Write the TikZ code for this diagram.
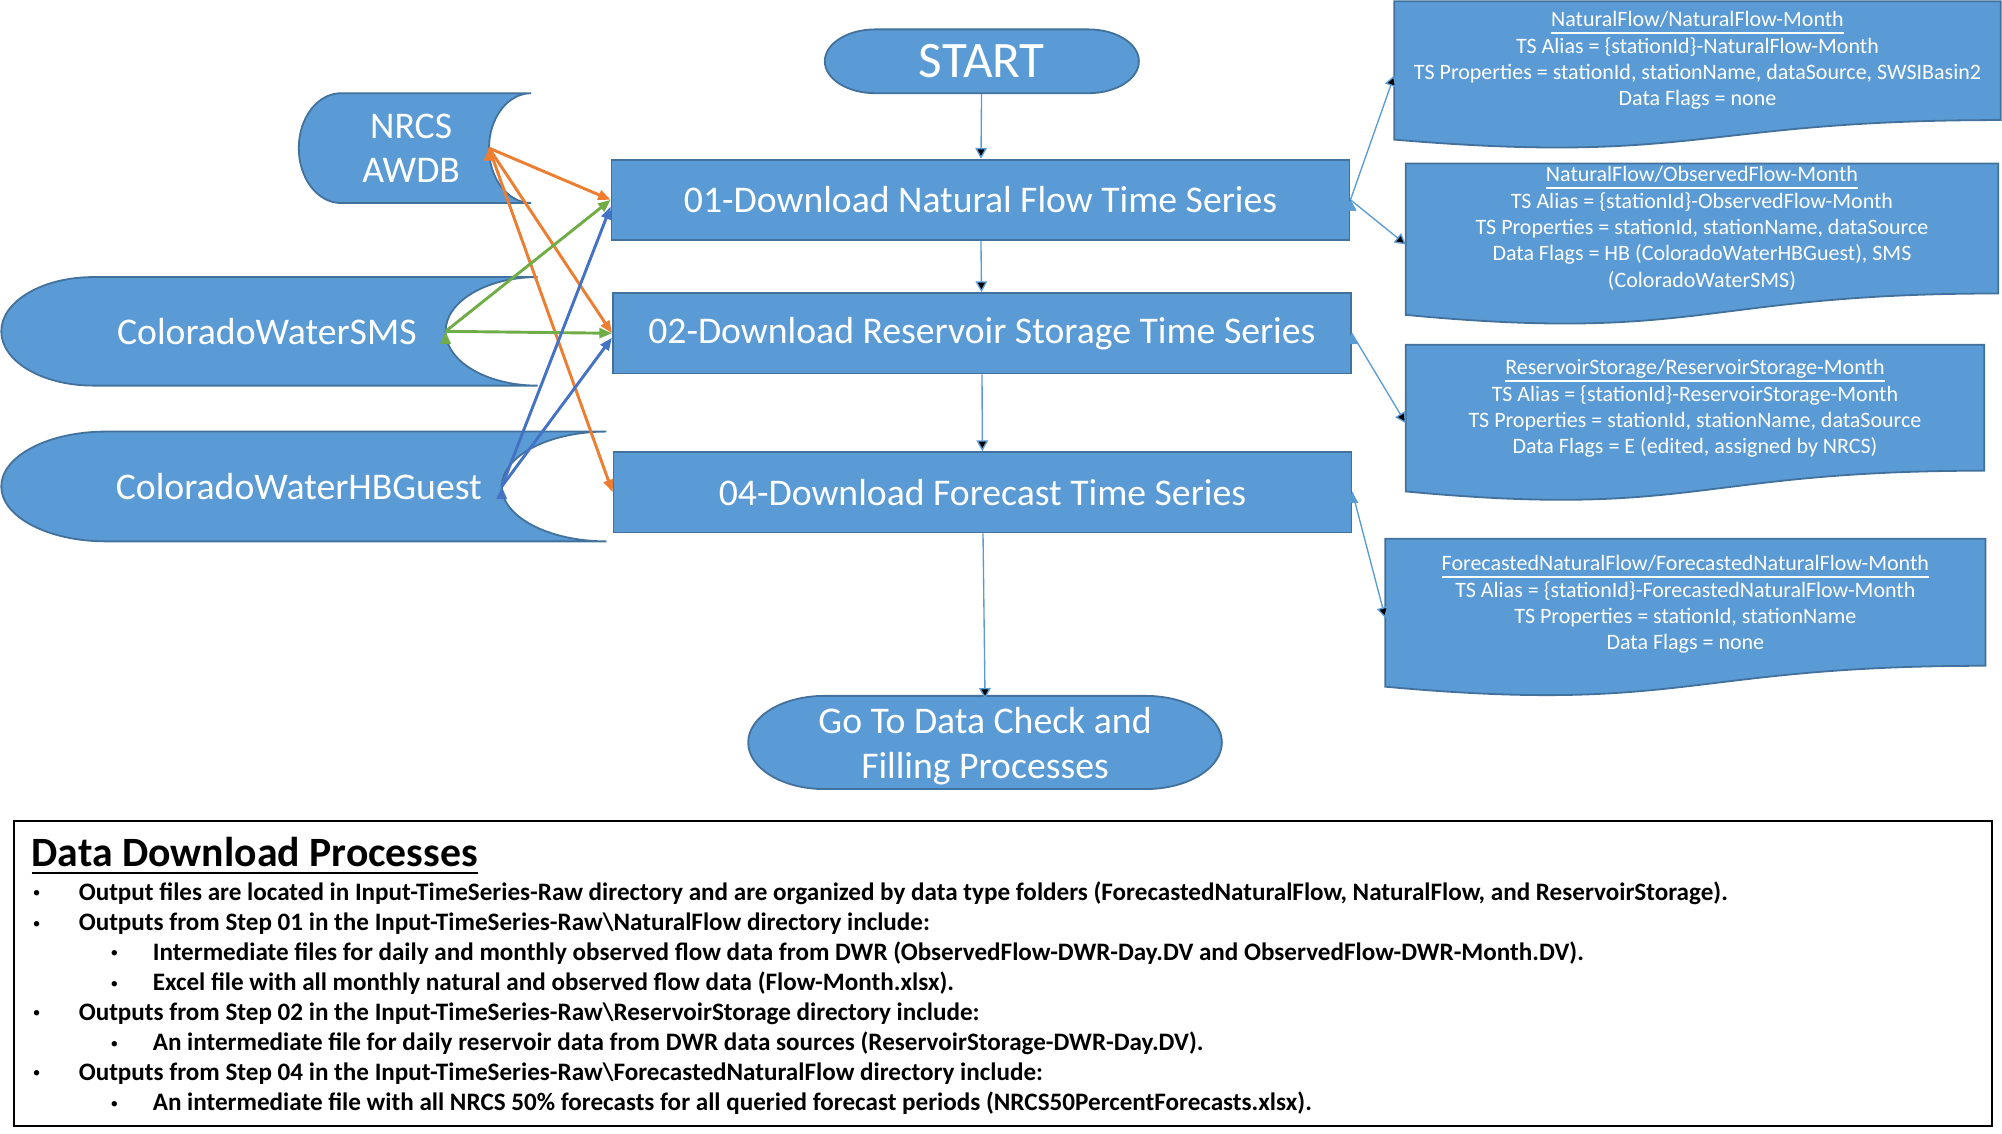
\documentclass[tikz,border=0pt]{standalone}
\usepackage{fontspec}
\setmainfont{Carlito}
\usetikzlibrary{arrows.meta}
\definecolor{boxfill}{HTML}{5B9BD5}
\definecolor{boxline}{HTML}{41719C}
\definecolor{nrcsline}{HTML}{ED7D31}
\definecolor{smsline}{HTML}{70AD47}
\definecolor{hbline}{HTML}{4472C4}
\tikzstyle{blueshape}=[draw=boxline,fill=boxfill,line width=0.4pt]
\tikzstyle{process}=[rectangle,blueshape,text=white,minimum width=5.78cm,minimum height=0.63cm,inner sep=0pt,font=\fontsize{8.4}{10}\selectfont]
\tikzstyle{terminal}=[text=white,inner sep=0pt,align=center]
\tikzstyle{source}=[text=white,inner sep=0pt,align=center,font=\fontsize{8.4}{9.9}\selectfont]
\tikzstyle{doctext}=[text=white,inner sep=0pt,align=center,font=\fontsize{4.9}{5.87}\selectfont]
\tikzstyle{flow}=[->,>={Triangle[length=2.4pt,width=2.6pt]},draw=boxfill,line width=0.3pt]
\tikzstyle{feed}=[->,>={Triangle[length=2.8pt,width=2.2pt]},line width=0.65pt]
\tikzstyle{note}=[anchor=base west,inner sep=0pt,font=\fontsize{5.6}{6}\selectfont\bfseries]
\newcommand{\titleline}[1]{\underline{\raisebox{0pt}[\height][0pt]{#1}}}
\newcommand{\bulletmark}{\raisebox{0.5pt}{\fontsize{3.4}{4}\selectfont\mdseries\textbullet}}
% stored data outline: left x, top y, width, height, end radius
\newcommand{\storedata}[5]{\filldraw[blueshape] ({#1+#5},-#2) -- ({#1+#3},-#2) arc[start angle=90,end angle=270,x radius=#5,y radius={#4/2}] -- ({#1+#5},{-#2-#4}) arc[start angle=270,end angle=90,x radius=#5,y radius={#4/2}] -- cycle;}
% document outline with wavy bottom: left x, top y, width, height
\newcommand{\docshape}[4]{\filldraw[blueshape] (#1,-#2) -- ({#1+#3},-#2) -- ({#1+#3},{-#2-0.802*#4}) .. controls ({#1+#3/2},{-#2-0.802*#4}) and ({#1+#3/2},{-#2-1.1075*#4}) .. (#1,{-#2-0.934*#4}) -- cycle;}
% terminator outline: centre x, centre y, width, height
\newcommand{\termshape}[4]{\filldraw[blueshape] ({#1-#3/2+0.161*#3},{#2+#4/2}) -- ({#1+#3/2-0.161*#3},{#2+#4/2}) arc[start angle=90,end angle=-90,x radius={0.161*#3},y radius={#4/2}] -- ({#1-#3/2+0.161*#3},{#2-#4/2}) arc[start angle=270,end angle=90,x radius={0.161*#3},y radius={#4/2}] -- cycle;}

\begin{document}
\begin{tikzpicture}
\useasboundingbox (0,0) rectangle (15.68,-8.88);
% data sources
\storedata{2.34}{0.73}{1.82}{0.86}{0.33}
\storedata{0.01}{2.17}{4.20}{0.85}{0.72}
\storedata{0.01}{3.38}{4.74}{0.86}{0.82}
\node[source] at (3.22, -1.16) (nrcs) {NRCS\\AWDB};
\node[source] at (2.09, -2.595) (sms) {ColoradoWaterSMS};
\node[source] at (2.34, -3.81) (hb) {ColoradoWaterHBGuest};
\coordinate (nrcs-out) at (3.83, -1.16);
\coordinate (sms-out) at (3.49, -2.595);
\coordinate (hb-out) at (3.93, -3.81);

% download steps
\termshape{7.69}{-0.48}{2.46}{0.50}
\node[terminal, font=\fontsize{11.4}{13}\selectfont, minimum width=2.46cm, minimum height=0.5cm] at (7.69, -0.48) (start) {START};
\node[process] at (7.68, -1.565) (b01) {01-Download Natural Flow Time Series};
\node[process] at (7.69, -2.61) (b02) {02-Download Reservoir Storage Time Series};
\node[process] at (7.695, -3.855) (b04) {04-Download Forecast Time Series};
\termshape{7.715}{-5.815}{3.71}{0.73}
\node[terminal, font=\fontsize{8.4}{9.9}\selectfont, minimum width=3.71cm, minimum height=0.73cm] at (7.715, -5.845) (goto) {Go To Data Check and\\Filling Processes};

% time series written by each step
\docshape{10.92}{0.01}{4.75}{1.16}
\docshape{11.01}{1.28}{4.64}{1.27}
\docshape{11.01}{2.70}{4.53}{1.23}
\docshape{10.85}{4.22}{4.70}{1.24}
\node[doctext] at (13.295, -0.475) (nat) {\titleline{NaturalFlow/NaturalFlow-Month}\\TS Alias = \{stationId\}-NaturalFlow-Month\\TS Properties = stationId, stationName, dataSource, SWSIBasin2\\Data Flags = none};
\node[doctext] at (13.33, -1.789) (obs) {\titleline{NaturalFlow/ObservedFlow-Month}\\TS Alias = \{stationId\}-ObservedFlow-Month\\TS Properties = stationId, stationName, dataSource\\Data Flags = HB (ColoradoWaterHBGuest), SMS\\(ColoradoWaterSMS)};
\node[doctext] at (13.275, -3.20) (res) {\titleline{ReservoirStorage/ReservoirStorage-Month}\\TS Alias = \{stationId\}-ReservoirStorage-Month\\TS Properties = stationId, stationName, dataSource\\Data Flags = E (edited, assigned by NRCS)};
\node[doctext] at (13.20, -4.735) (fc) {\titleline{ForecastedNaturalFlow/ForecastedNaturalFlow-Month}\\TS Alias = \{stationId\}-ForecastedNaturalFlow-Month\\TS Properties = stationId, stationName\\Data Flags = none};
\coordinate (nat-in) at (10.92, -0.59);
\coordinate (obs-in) at (11.01, -1.915);
\coordinate (res-in) at (11.01, -3.315);
\coordinate (fc-in) at (10.85, -4.84);

\draw[flow] (start) edge (b01);
\draw[flow] (b01) edge (b02);
\draw[flow] (b02) edge (b04);
\draw[flow] (b04) edge (goto.north);
\draw[flow] (b01.east) edge (nat-in);
\draw[flow] (b01.east) edge (obs-in);
\draw[flow] (b02.east) edge (res-in);
\draw[flow] (b04.east) edge (fc-in);

\draw[feed, nrcsline] (nrcs-out) edge (b01.west) edge (b02.west) edge (b04.west);
\draw[feed, smsline] (sms-out) edge (b01.west) edge (b02.west);
\draw[feed, hbline] (hb-out) edge ([yshift=-1.5pt]b01.west) edge ([yshift=-1pt]b02.west);

% notes
\node[draw, line width=0.45pt, minimum width=15.49cm, minimum height=2.39cm, inner sep=0pt] at (7.855, -7.625) (notes) {};
\node[anchor=base west, inner sep=0pt, font=\fontsize{9.3}{10}\selectfont\bfseries] at (0.24, -6.79) (title) {\titleline{Data Download Processes}};
\node[note] at (0.25, -7.05) (n1) {\makebox[0.36cm][l]{\bulletmark}Output files are located in Input-TimeSeries-Raw directory and are organized by data type folders (ForecastedNaturalFlow, NaturalFlow, and ReservoirStorage).};
\node[note] at (0.25, -7.29) (n2) {\makebox[0.36cm][l]{\bulletmark}Outputs from Step 01 in the Input-TimeSeries-Raw\textbackslash NaturalFlow directory include:};
\node[note] at (0.86, -7.52) (n3) {\makebox[0.33cm][l]{\bulletmark}Intermediate files for daily and monthly observed flow data from DWR (ObservedFlow-DWR-Day.DV and ObservedFlow-DWR-Month.DV).};
\node[note] at (0.86, -7.76) (n4) {\makebox[0.33cm][l]{\bulletmark}Excel file with all monthly natural and observed flow data (Flow-Month.xlsx).};
\node[note] at (0.25, -7.99) (n5) {\makebox[0.36cm][l]{\bulletmark}Outputs from Step 02 in the Input-TimeSeries-Raw\textbackslash ReservoirStorage directory include:};
\node[note] at (0.86, -8.23) (n6) {\makebox[0.33cm][l]{\bulletmark}An intermediate file for daily reservoir data from DWR data sources (ReservoirStorage-DWR-Day.DV).};
\node[note] at (0.25, -8.46) (n7) {\makebox[0.36cm][l]{\bulletmark}Outputs from Step 04 in the Input-TimeSeries-Raw\textbackslash ForecastedNaturalFlow directory include:};
\node[note] at (0.86, -8.70) (n8) {\makebox[0.33cm][l]{\bulletmark}An intermediate file with all NRCS 50\% forecasts for all queried forecast periods (NRCS50PercentForecasts.xlsx).};
\end{tikzpicture}
\end{document}
